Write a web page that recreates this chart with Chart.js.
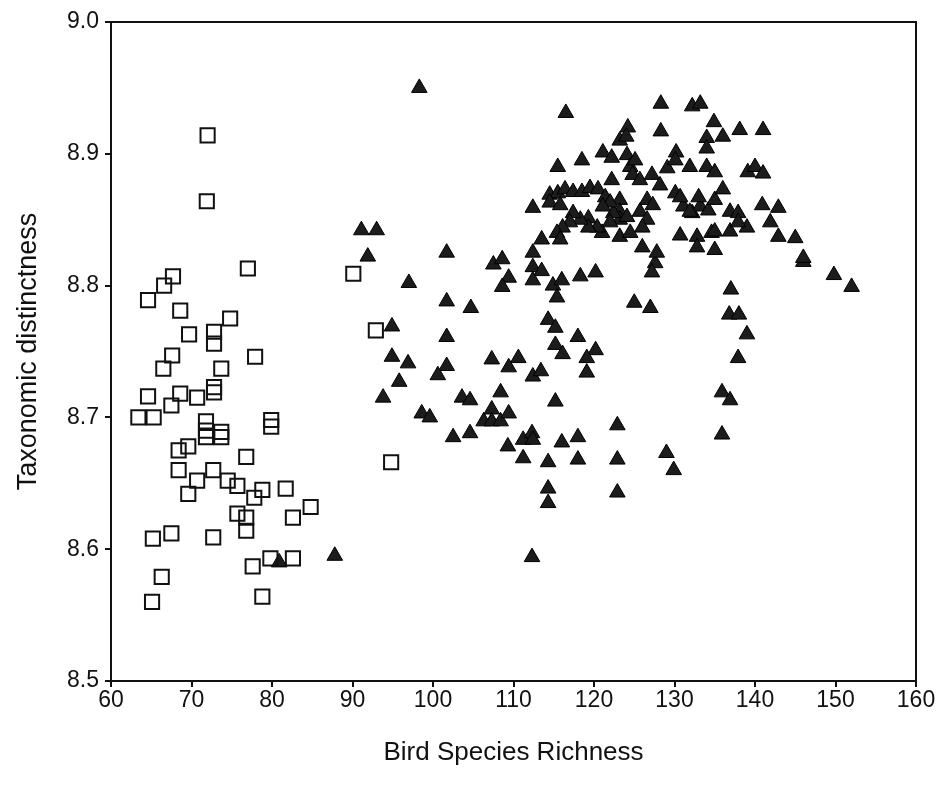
<!DOCTYPE html>
<html>
<head>
<meta charset="utf-8">
<script src="https://cdn.jsdelivr.net/npm/chart.js@4.4.1/dist/chart.umd.min.js"></script>
<style>
  html, body { margin: 0; padding: 0; background: #fff; }
  canvas { display: block; }
</style>
</head>
<body>
<canvas id="c" width="936" height="789"></canvas>
<script>
// ---- Data ----
const xTicks = [60, 70, 80, 90, 100, 110, 120, 130, 140, 150, 160];
const yTicks = [8.5, 8.6, 8.7, 8.8, 8.9, 9.0];

// Open squares
const openX = [72.0, 71.9, 67.7, 66.6, 64.6, 68.6, 77.0, 74.8, 69.7, 72.8,
  72.8, 67.6, 66.5, 77.9, 73.7, 64.6, 68.6, 67.5, 70.7, 72.8,
  72.8, 63.4, 65.3, 79.9, 79.9, 71.8, 71.8, 71.8, 73.7, 73.7,
  69.6, 68.4, 76.8, 68.4, 72.7, 70.7, 74.5, 75.7, 69.6, 78.8,
  77.8, 81.7, 84.8, 82.6, 75.7, 76.8, 76.8, 67.5, 65.2, 72.7,
  79.8, 82.6, 77.6, 66.3, 65.1, 78.8, 90.1, 92.9, 94.8];
const openY = [8.914, 8.864, 8.807, 8.800, 8.789, 8.781, 8.813, 8.775, 8.763, 8.765,
  8.756, 8.747, 8.737, 8.746, 8.737, 8.716, 8.718, 8.709, 8.715, 8.723,
  8.719, 8.700, 8.700, 8.698, 8.693, 8.697, 8.690, 8.685, 8.689, 8.685,
  8.678, 8.675, 8.670, 8.660, 8.660, 8.652, 8.652, 8.648, 8.642, 8.645,
  8.639, 8.646, 8.632, 8.624, 8.627, 8.624, 8.614, 8.612, 8.608, 8.609,
  8.593, 8.593, 8.587, 8.579, 8.560, 8.564, 8.809, 8.766, 8.666];

// Filled triangles
const filledX = [80.9, 87.8, 98.3, 91.1, 93.0, 91.9, 101.7, 97.0, 107.5, 108.6,
  109.4, 108.6, 101.7, 104.7, 94.9, 101.7, 94.9, 96.9, 101.7, 100.6,
  95.8, 93.8, 107.3, 110.6, 109.4, 112.4, 113.4, 115.2, 116.1, 103.6,
  104.6, 108.4, 98.6, 99.6, 107.3, 106.3, 107.3, 108.4, 109.4, 102.5,
  104.6, 109.3, 111.2, 112.3, 112.4, 111.2, 114.3, 115.2, 116.0, 118.0,
  118.0, 114.3, 114.3, 112.3, 122.9, 122.9, 129.0, 129.9, 122.9, 135.9,
  136.9, 135.9, 146.0, 149.8, 152.0, 137.0, 136.8, 138.0, 139.0, 137.9,
  112.4, 113.5, 112.4, 114.9, 116.0, 115.4, 118.3, 120.2, 127.6, 127.2,
  125.0, 127.0, 114.3, 115.2, 118.0, 120.2, 119.1, 119.1, 116.5, 128.3,
  132.2, 133.2, 128.3, 134.9, 124.2, 123.2, 124.0, 134.0, 136.0, 134.0,
  130.2, 121.1, 122.2, 118.5, 115.5, 124.1, 124.5, 125.1, 124.8, 125.7,
  127.2, 129.1, 130.1, 131.9, 134.0, 135.0, 128.2, 130.1, 126.6, 127.3,
  125.7, 126.6, 126.0, 123.2, 123.2, 123.2, 122.4, 124.1, 122.0, 123.2,
  124.5, 121.0, 120.4, 119.3, 119.3, 118.3, 117.4, 117.0, 116.1, 115.4,
  115.8, 114.5, 115.5, 116.4, 117.4, 118.5, 119.5, 120.5, 114.5, 115.8,
  121.4, 122.0, 121.1, 112.4, 113.5, 112.4, 122.2, 131.1, 132.2, 133.2,
  134.2, 135.0, 130.7, 132.8, 134.6, 132.8, 126.0, 127.8, 135.0, 138.1,
  141.0, 139.1, 140.0, 141.0, 136.0, 133.0, 131.9, 136.9, 137.9, 139.0,
  140.9, 142.9, 141.9, 136.9, 137.9, 135.0, 142.9, 145.0, 146.0, 130.7];
const filledY = [8.590, 8.595, 8.950, 8.842, 8.842, 8.822, 8.825, 8.802, 8.816, 8.820,
  8.806, 8.799, 8.788, 8.783, 8.769, 8.761, 8.746, 8.741, 8.739, 8.732,
  8.727, 8.715, 8.744, 8.745, 8.738, 8.731, 8.735, 8.755, 8.748, 8.715,
  8.713, 8.719, 8.703, 8.700, 8.706, 8.697, 8.697, 8.697, 8.703, 8.685,
  8.688, 8.678, 8.683, 8.688, 8.683, 8.669, 8.666, 8.712, 8.681, 8.685,
  8.668, 8.646, 8.635, 8.594, 8.694, 8.668, 8.673, 8.660, 8.643, 8.719,
  8.713, 8.687, 8.818, 8.808, 8.799, 8.797, 8.778, 8.778, 8.763, 8.745,
  8.814, 8.811, 8.804, 8.800, 8.804, 8.791, 8.807, 8.810, 8.817, 8.810,
  8.787, 8.783, 8.774, 8.768, 8.761, 8.751, 8.745, 8.734, 8.931, 8.938,
  8.936, 8.938, 8.917, 8.924, 8.920, 8.910, 8.913, 8.912, 8.913, 8.904,
  8.901, 8.901, 8.897, 8.895, 8.890, 8.899, 8.890, 8.895, 8.884, 8.880,
  8.884, 8.889, 8.895, 8.890, 8.890, 8.886, 8.876, 8.870, 8.865, 8.861,
  8.856, 8.850, 8.844, 8.865, 8.856, 8.850, 8.855, 8.852, 8.848, 8.837,
  8.840, 8.840, 8.844, 8.851, 8.844, 8.850, 8.855, 8.848, 8.844, 8.840,
  8.835, 8.869, 8.870, 8.873, 8.871, 8.871, 8.874, 8.873, 8.863, 8.861,
  8.867, 8.863, 8.860, 8.859, 8.835, 8.825, 8.880, 8.860, 8.855, 8.860,
  8.857, 8.865, 8.838, 8.837, 8.840, 8.829, 8.829, 8.825, 8.827, 8.918,
  8.918, 8.886, 8.890, 8.885, 8.873, 8.867, 8.856, 8.856, 8.855, 8.844,
  8.861, 8.859, 8.848, 8.841, 8.848, 8.841, 8.837, 8.836, 8.821, 8.867];

const openPts = openX.map((x, i) => ({ x: x, y: openY[i] }));
const filledPts = filledX.map((x, i) => ({ x: x, y: filledY[i] }));

const FONT = "'Liberation Sans', Arial, sans-serif";

const framePlugin = {
  id: 'frame',
  beforeDatasetsDraw(chart) {
    const { ctx, chartArea: a } = chart;
    ctx.save();
    ctx.strokeStyle = '#111';
    ctx.lineWidth = 2;
    ctx.strokeRect(a.left, a.top, a.right - a.left, a.bottom - a.top);
    ctx.restore();
  }
};

new Chart(document.getElementById('c'), {
  type: 'scatter',
  data: {
    datasets: [
      {
        label: 'open',
        data: openPts,
        pointStyle: 'rect',
        pointRadius: 10,
        pointHoverRadius: 10,
        backgroundColor: 'rgba(0,0,0,0)',
        borderColor: '#111',
        borderWidth: 2
      },
      {
        label: 'filled',
        data: filledPts,
        pointStyle: 'triangle',
        pointRadius: 9,
        pointHoverRadius: 9,
        backgroundColor: '#1c1c1c',
        borderColor: '#000',
        borderWidth: 1
      }
    ]
  },
  options: {
    responsive: false,
    animation: false,
    devicePixelRatio: 1,
    layout: { padding: { top: 22, right: 20, left: 0, bottom: 0 } },
    plugins: {
      legend: { display: false },
      tooltip: { enabled: false }
    },
    scales: {
      x: {
        type: 'linear',
        min: xTicks[0],
        max: xTicks[xTicks.length - 1],
        afterBuildTicks(scale) { scale.ticks = xTicks.map(v => ({ value: v })); },
        afterFit(scale) { scale.height = 108; },
        ticks: {
          color: '#111',
          font: { family: FONT, size: 23 },
          padding: 0,
          maxRotation: 0,
          autoSkip: false,
          callback: v => String(v)
        },
        grid: { drawOnChartArea: false, drawTicks: true, tickLength: 6, color: '#111', lineWidth: 2 },
        border: { display: true, color: '#111', width: 2 },
        title: {
          display: true,
          text: 'Bird Species Richness',
          color: '#111',
          font: { family: FONT, size: 26 },
          padding: { top: 0, bottom: 21 }
        }
      },
      y: {
        type: 'linear',
        min: yTicks[0],
        max: yTicks[yTicks.length - 1],
        afterBuildTicks(scale) { scale.ticks = yTicks.map(v => ({ value: v })); },
        afterFit(scale) { scale.width = 111; },
        ticks: {
          color: '#111',
          font: { family: FONT, size: 23 },
          padding: 6,
          autoSkip: false,
          callback: v => Number(v).toFixed(1)
        },
        grid: { drawOnChartArea: false, drawTicks: true, tickLength: 6, color: '#111', lineWidth: 2 },
        border: { display: true, color: '#111', width: 2 },
        title: {
          display: true,
          text: 'Taxonomic distinctness',
          color: '#111',
          font: { family: FONT, size: 27 },
          padding: { top: 12, bottom: 0 }
        }
      }
    }
  },
  plugins: [framePlugin]
});
</script>
</body>
</html>
